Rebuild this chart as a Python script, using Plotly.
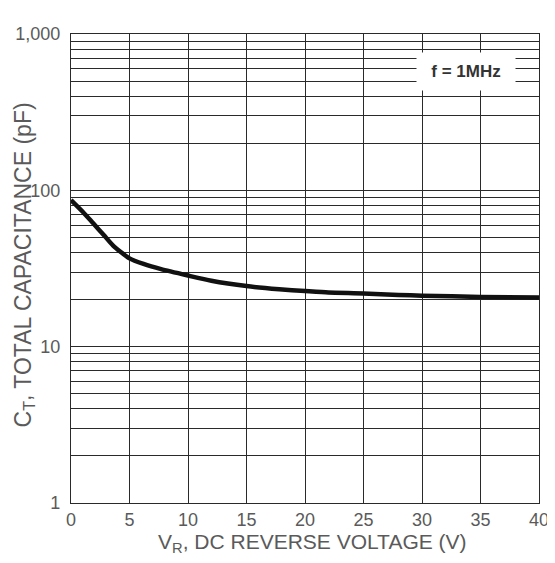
import plotly.graph_objects as go

# Data
voltage = [0, 1, 1.9, 2.8, 3.6, 5, 6.2, 7.7, 10, 12, 15, 17.8, 20, 22, 25, 28, 30, 35, 40]
capacitance = [86.7, 73.0, 61.5, 51.8, 44.3, 36.7, 33.8, 31.3, 28.5, 26.4, 24.4, 23.3,
               22.7, 22.2, 21.9, 21.4, 21.2, 20.8, 20.6]

x_ticks = [0, 5, 10, 15, 20, 25, 30, 35, 40]
y_decades = [1, 10, 100, 1000]
y_decade_labels = ["1", "10", "100", "1,000"]

y_grid = []
y_text = []
for d in [1, 10, 100]:
    for m in range(1, 10):
        y_grid.append(d * m)
        y_text.append(y_decade_labels[y_decades.index(d)] if m == 1 else "")
y_grid.append(1000)
y_text.append("1,000")

FONT = "Liberation Sans, Arial, sans-serif"
TXT = "#5a5a5a"
GRID = "#2a2a2a"

fig = go.Figure()
fig.add_trace(go.Scatter(
    x=voltage, y=capacitance, mode="lines",
    line=dict(color="#111111", width=4.5, shape="spline", smoothing=0.6),
    showlegend=False, hoverinfo="skip",
))

fig.add_annotation(
    x=33.76, y=2.760, xref="x", yref="y",
    text="<b>f = 1MHz</b>", showarrow=False,
    font=dict(family="Liberation Sans Narrow, Liberation Sans, Arial", size=17, color="#333333"),
    bgcolor="white", width=96, height=35,
)
fig.add_annotation(
    x=0.517, y=-0.086, xref="paper", yref="paper",
    xanchor="center", yanchor="middle", showarrow=False,
    text="V<sub>R</sub>, DC REVERSE VOLTAGE (V)",
    font=dict(family=FONT, size=21, color=TXT),
)
fig.add_annotation(
    x=-0.1346, y=0.5075, xref="paper", yref="paper",
    xanchor="left", yanchor="middle", showarrow=False, textangle=-90,
    text="C<sub>T</sub>, TOTAL CAPACITANCE (pF)",
    font=dict(family=FONT, size=23, color=TXT),
)

fig.update_layout(
    width=547, height=555,
    margin=dict(l=63, r=16, t=26, b=60, autoexpand=False),
    paper_bgcolor="white", plot_bgcolor="white",
    font=dict(family=FONT, color=TXT),
    xaxis=dict(
        range=[0, 40], tickvals=x_ticks, ticktext=[str(v) for v in x_ticks],
        showgrid=True, gridcolor=GRID, gridwidth=1.4,
        showline=True, linecolor=GRID, linewidth=1.4, mirror=True,
        zeroline=False, ticks="", automargin=False, ticklabelstandoff=0,
        tickfont=dict(family=FONT, size=18, color=TXT),
    ),
    yaxis=dict(
        type="log", range=[0, 3], tickvals=y_grid, ticktext=y_text,
        showgrid=True, gridcolor=GRID, gridwidth=1.4,
        showline=True, linecolor=GRID, linewidth=1.4, mirror=True,
        zeroline=False, ticks="", automargin=False, ticklabelstandoff=6,
        tickfont=dict(family=FONT, size=18, color=TXT),
    ),
)

fig.write_html("out.html")
